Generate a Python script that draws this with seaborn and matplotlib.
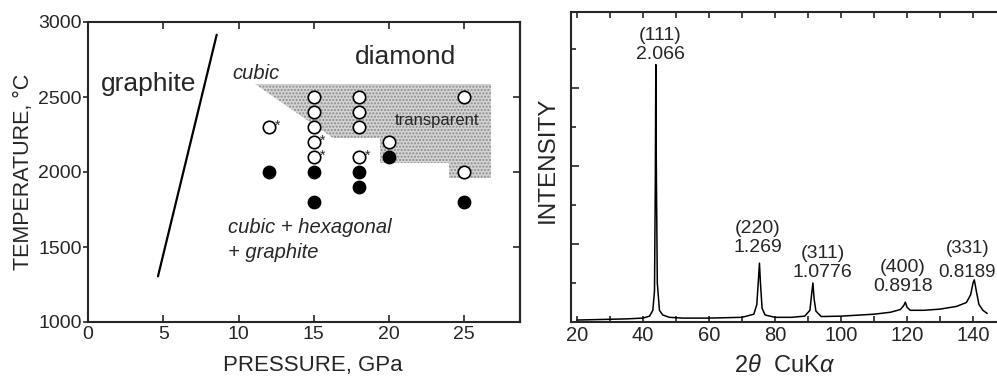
import numpy as np
import pandas as pd
import matplotlib
matplotlib.use("Agg")
import matplotlib.pyplot as plt
from matplotlib.ticker import MultipleLocator
import seaborn as sns

# ---------------- data: phase diagram ----------------
open_p = [12, 15, 15, 15, 15, 15, 18, 18, 18, 18, 20, 25, 25]
open_t = [2300, 2500, 2400, 2300, 2200, 2100, 2500, 2400, 2300, 2100, 2200, 2500, 2000]
filled_p = [12, 15, 15, 18, 18, 20, 25]
filled_t = [2000, 2000, 1800, 2000, 1900, 2100, 1800]
star_p = [12, 15, 15, 18]
star_t = [2300, 2200, 2100, 2100]
graphite_line_p = [4.65, 8.55]
graphite_line_t = [1305, 2915]
shade_p = [11.1, 26.8, 26.8, 24.0, 24.0, 19.4, 19.4, 16.3]
shade_t = [2590, 2590, 1960, 1960, 2060, 2060, 2230, 2230]
p_ticks = [0, 5, 10, 15, 20, 25]
t_ticks = [1000, 1500, 2000, 2500, 3000]

# ---------------- data: XRD pattern ----------------
two_theta = [20, 25, 30, 35, 40, 42, 43, 43.5, 43.75, 43.9, 44.05, 44.35, 45, 46, 48, 52, 60, 70,
             73.6, 74.5, 75.0, 75.3, 75.6, 76.1, 77, 80, 85, 89, 90.6, 91.15, 91.5, 91.85, 92.4,
             94, 100, 110, 115, 118, 119.0, 119.5, 120.0, 121, 125, 130, 135, 138, 139.3,
             140.0, 140.4, 141.0, 141.8, 143, 144.3]
intensity = [0.05, 0.06, 0.07, 0.08, 0.10, 0.15, 0.30, 0.80, 3.6, 6.6, 4.0, 1.0, 0.30, 0.18,
             0.12, 0.10, 0.10, 0.12, 0.20, 0.45, 1.1, 1.51, 1.0, 0.35, 0.18, 0.12, 0.12, 0.15,
             0.30, 0.75, 1.0, 0.60, 0.28, 0.14, 0.15, 0.20, 0.25, 0.32, 0.42, 0.51, 0.38, 0.30,
             0.30, 0.33, 0.40, 0.50, 0.70, 1.0, 1.08, 0.80, 0.45, 0.30, 0.22]
peak_hkl = ["(111)", "(220)", "(311)", "(400)", "(331)"]
peak_d = ["2.066", "1.269", "1.0776", "0.8918", "0.8189"]
label_x = [45.2, 74.8, 94.5, 118.8, 138.3]
label_y_hkl = [7.36, 2.41, 1.75, 1.41, 1.88]
label_y_d = [6.85, 1.90, 1.27, 0.92, 1.26]
tt_ticks = [20, 40, 60, 80, 100, 120, 140]

# ---------------- style ----------------
sns.set_style("ticks")
plt.rcParams['font.family'] = ['Liberation Sans', 'DejaVu Sans']
plt.rcParams['mathtext.fontset'] = 'custom'
plt.rcParams['mathtext.it'] = 'Liberation Sans:italic'
plt.rcParams['mathtext.rm'] = 'Liberation Sans'

fig = plt.figure(figsize=(9.97, 3.81), dpi=100)
W, H = 997, 381

def px_axes(x0, x1, y0, y1):
    return fig.add_axes([x0 / W, 1 - y1 / H, (x1 - x0) / W, (y1 - y0) / H])

# ================= left panel =================
ax1 = px_axes(88, 520, 22, 322)
ax1.fill(shade_p, shade_t, facecolor='#d4d4d4', edgecolor='#8a8a8a', hatch='.....',
         linewidth=0, zorder=1)
sns.lineplot(x=graphite_line_p, y=graphite_line_t, ax=ax1, color='black', lw=1.6,
             sort=False, estimator=None, zorder=2)
sns.scatterplot(x=open_p, y=open_t, ax=ax1, s=80, facecolor='white', edgecolor='black',
                linewidth=1.2, zorder=3)
sns.scatterplot(x=filled_p, y=filled_t, ax=ax1, s=80, color='black', edgecolor='black',
                linewidth=1.0, zorder=3)
for p, t in zip(star_p, star_t):
    ax1.text(p + 0.42, t + 10, "*", fontsize=10, ha='left', va='center', zorder=4)

ax1.set_xlim(0, 28.7)
ax1.set_ylim(1000, 3000)
ax1.set_xticks(p_ticks)
ax1.set_yticks(t_ticks)
ax1.tick_params(axis='x', direction='in', top=True, length=5, width=1.2, labelsize=14, pad=3)
ax1.tick_params(axis='y', direction='out', right=False, length=3.5, width=1.2, labelsize=14, pad=1)
sec = ax1.secondary_yaxis('right')
sec.set_yticks([1500, 2000, 2500])
sec.tick_params(direction='in', length=5, width=1.2, labelright=False)
for s in ax1.spines.values():
    s.set_linewidth(1.5)
sec.spines['right'].set_linewidth(1.5)

ax1.set_xlabel("PRESSURE, GPa", fontsize=16)
ax1.xaxis.label.set_va('center')
ax1.xaxis.set_label_coords((313 - 88) / 432, (322 - 366) / 300)
ax1.set_ylabel("TEMPERATURE, °C", fontsize=15.5)
ax1.yaxis.label.set_va('center')
ax1.yaxis.set_label_coords((23 - 88) / 432, 0.5)

ax1.text(4.0, 2542, "graphite", fontsize=19, ha='center', va='baseline')
ax1.text(21.1, 2720, "diamond", fontsize=19, ha='center', va='baseline')
ax1.text(9.6, 2620, "cubic", fontsize=14.5, style='italic', ha='left', va='baseline')
ax1.text(20.4, 2313, "transparent", fontsize=12, ha='left', va='baseline', zorder=4)
ax1.text(9.3, 1593, "cubic + hexagonal", fontsize=14.5, style='italic', ha='left', va='baseline')
ax1.text(9.3, 1427, "+ graphite", fontsize=14.5, style='italic', ha='left', va='baseline')

# ================= right panel =================
ax2 = px_axes(571, 1006, 12, 322)
sns.lineplot(x=two_theta, y=intensity, ax=ax2, color='black', lw=1.1,
             sort=False, estimator=None)
ax2.set_xlim(18.2, 150)
ax2.set_ylim(0, 7.95)
ax2.set_xticks(tt_ticks)
ax2.xaxis.set_minor_locator(MultipleLocator(10))
ax2.set_yticks([2, 4, 6])
ax2.yaxis.set_minor_locator(MultipleLocator(1))
ax2.set_yticklabels([])
ax2.tick_params(axis='x', which='both', direction='in', top=True, length=4, width=1.2,
                labelsize=14.5, pad=3)
ax2.tick_params(axis='y', which='major', direction='in', length=6, width=1.2)
ax2.tick_params(axis='y', which='minor', direction='in', length=3.5, width=1.2)
for s in ax2.spines.values():
    s.set_linewidth(1.5)

ax2.set_ylabel("INTENSITY", fontsize=17.5)
ax2.yaxis.label.set_va('center')
ax2.yaxis.set_label_coords((548 - 571) / 435, 0.523)
ax2.set_xlabel(r"2$\it{\theta}$  CuK$\it{\alpha}$", fontsize=17)
ax2.xaxis.label.set_va('center')
ax2.xaxis.set_label_coords((785 - 571) / 435, (322 - 366) / 310)

for x, hkl, d, yh, yd in zip(label_x, peak_hkl, peak_d, label_y_hkl, label_y_d):
    fs = 13.5 if hkl == "(331)" else 14
    ax2.text(x, yh, hkl, fontsize=fs, ha='center', va='center')
    ax2.text(x, yd, d, fontsize=fs, ha='center', va='center')

fig.savefig("out.png", dpi=100)
